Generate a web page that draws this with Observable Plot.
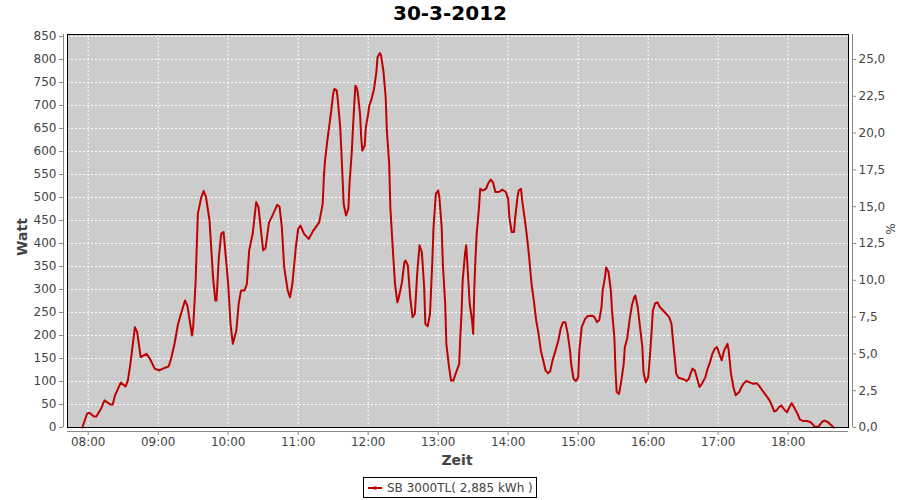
<!DOCTYPE html>
<html>
<head>
<meta charset="utf-8">
<script src="https://cdn.jsdelivr.net/npm/d3@7"></script>
<script src="https://cdn.jsdelivr.net/npm/@observablehq/plot@0.6"></script>
<style>
  html, body { margin: 0; padding: 0; background: #fff; }
  #wrap { position: relative; width: 900px; height: 500px; font-family: "DejaVu Sans", sans-serif; }
  #chart { position: absolute; left: 0; top: 0; }
  .lbl { position: absolute; color: #444; white-space: nowrap; }
  #title { position: absolute; left: 0; width: 900px; top: 1px; text-align: center; font-weight: bold; font-size: 20px; color: #000; }
  #legend { position: absolute; left: 363px; top: 477px; width: 172px; height: 19px; border: 1px solid #000; box-sizing: content-box;
            display: flex; align-items: center; font-size: 12px; color: #444; }
</style>
</head>
<body>
<div id="wrap">
  <div id="chart"></div>
  <div id="title">30-3-2012</div>
  <div class="lbl" id="ylab" style="left:22px; top:237px; font-size:14px; font-weight:bold; transform: translate(-50%,-50%) rotate(-90deg);">Watt</div>
  <div class="lbl" id="y2lab" style="left:891px; top:229px; font-size:12px; transform: translate(-50%,-50%) rotate(-90deg);">%</div>
  <div class="lbl" id="xlab" style="left:457px; top:460px; font-size:14px; font-weight:bold; transform: translate(-50%,-50%);">Zeit</div>
  <div id="legend">
    <svg width="20" height="19" style="margin-left:2px"><line x1="2" x2="16" y1="10" y2="10" stroke="#c00000" stroke-width="2"/><rect x="7.5" y="8.5" width="3" height="3" fill="#c00000"/></svg>
    <span style="margin-left:1px">SB 3000TL( 2,885 kWh )</span>
  </div>
</div>
<script>
const title = "30-3-2012";
const seriesName = "SB 3000TL( 2,885 kWh )";

const times = ["07:55","07:59","08:01","08:05","08:07","08:11","08:14","08:19","08:21","08:23","08:28","08:32","08:34","08:36","08:38","08:40","08:42","08:45","08:50","08:53","08:57",
"09:01","09:06","09:09","09:11","09:14","09:17","09:20","09:23","09:25","09:27","09:29","09:30","09:32","09:34","09:37","09:39","09:41","09:44","09:47","09:49","09:50","09:52","09:54","09:56","09:58",
"10:00","10:02","10:04","10:07","10:09","10:11","10:14","10:16","10:18","10:21","10:24","10:26","10:28","10:30","10:32","10:35","10:38","10:42","10:44","10:46","10:48","10:51","10:53","10:55","10:58",
"11:00","11:02","11:05","11:09","11:13","11:18","11:21","11:22","11:23","11:25","11:28","11:30","11:31","11:33","11:34","11:36","11:37","11:38","11:39","11:41","11:43","11:44","11:46","11:47","11:49","11:50","11:51","11:53","11:54","11:55","11:57","11:58",
"12:00","12:01","12:03","12:05","12:07","12:08","12:10","12:11","12:13","12:15","12:16","12:18","12:19","12:21","12:23","12:25","12:26","12:29","12:31","12:32","12:34","12:36","12:38","12:40","12:42","12:44","12:46","12:48","12:49","12:51","12:53","12:55","12:56","12:58",
"13:00","13:01","13:03","13:04","13:06","13:07","13:09","13:11","13:13","13:15","13:18","13:19","13:20","13:21","13:23","13:24","13:25","13:27","13:29","13:30","13:31","13:32","13:33","13:35","13:36","13:38","13:41","13:43","13:45","13:47","13:49","13:52","13:55","13:58",
"14:00","14:01","14:03","14:05","14:06","14:08","14:09","14:11","14:12","14:14","14:16","14:18","14:20","14:22","14:24","14:26","14:28","14:30","14:32","14:34","14:36","14:38","14:41","14:43","14:45","14:47","14:49","14:51","14:53","14:54","14:56","14:58",
"15:00","15:01","15:03","15:06","15:08","15:12","15:14","15:16","15:18","15:20","15:21","15:23","15:24","15:26","15:28","15:29","15:31","15:32","15:33","15:35","15:37","15:39","15:40","15:42","15:44","15:46","15:48","15:49","15:51","15:53","15:55","15:56","15:58",
"16:00","16:01","16:03","16:04","16:06","16:08","16:10","16:14","16:18","16:20","16:21","16:23","16:24","16:26","16:29","16:31","16:33","16:35","16:36","16:38","16:40","16:42","16:44","16:46","16:49","16:51","16:53","16:55","16:57","16:59",
"17:01","17:03","17:05","17:08","17:09","17:11","17:13","17:15","17:18","17:20","17:22","17:24","17:27","17:30","17:33","17:35","17:38","17:41","17:44","17:46","17:48","17:50","17:52","17:54","17:56","17:59",
"18:01","18:03","18:05","18:08","18:10","18:13","18:16","18:19","18:21","18:23","18:26","18:29","18:31","18:34","18:36","18:39"];

const watts = [0,30,32,24,24,41,59,50,50,70,98,89,102,135,175,218,207,153,160,149,128,
124,130,133,149,182,225,251,276,265,233,200,218,312,465,501,514,501,450,327,276,276,370,421,425,370,
312,225,182,211,269,298,298,312,385,421,490,479,430,385,390,446,461,484,480,435,348,298,283,312,392,
432,439,421,410,428,446,486,544,580,624,682,725,736,733,711,653,602,544,486,461,475,530,602,653,743,740,729,682,631,602,613,653,
682,700,715,736,772,805,814,809,776,718,646,573,479,392,312,272,280,316,359,363,352,283,240,247,334,396,381,305,225,220,247,363,435,508,
515,501,435,356,269,182,138,102,102,117,138,200,247,320,378,396,356,269,233,204,305,370,421,479,519,515,519,531,539,533,512,512,517,512,
497,457,425,425,457,501,515,519,493,457,417,370,312,276,233,204,167,146,124,118,122,146,171,189,215,229,229,204,167,138,106,101,
109,167,218,236,242,243,240,229,233,262,298,327,348,338,298,254,196,124,77,73,102,138,175,193,233,265,283,287,262,218,175,120,98,
109,138,211,254,270,272,262,251,240,225,196,146,117,108,106,104,101,106,115,128,124,106,88,95,109,128,142,160,171,175,
160,146,167,182,167,117,88,70,77,88,96,101,98,95,96,91,80,70,59,48,35,37,44,48,41,33,
44,53,44,30,17,14,14,12,7,1,2,12,15,12,7,0];

const wattTicks = d3.range(0, 851, 50);
const pctTicks = [0, 2.5, 5, 7.5, 10, 12.5, 15, 17.5, 20, 22.5, 25];
const wattPerPct = 32; // 100 % = 3200 W
const hourLabels = ["08:00","09:00","10:00","11:00","12:00","13:00","14:00","15:00","16:00","17:00","18:00"];

const toDate = s => { const [h, m, sec] = s.split(":").map(Number); return new Date(Date.UTC(2012, 2, 30, h, m, sec || 0)); };
const data = times.map((t, i) => ({time: toDate(t), w: watts[i]}));
const hourTicks = hourLabels.map(toDate);
const xDomain = [toDate("07:42:16"), toDate("18:51:42")];
const yDomain = [0, 854.3];

const chart = Plot.plot({
  width: 900, height: 500,
  marginLeft: 67, marginRight: 52, marginTop: 34, marginBottom: 73,
  style: {background: "transparent", fontFamily: "DejaVu Sans, sans-serif", fontSize: "12px", color: "#444"},
  x: {type: "utc", domain: xDomain},
  y: {domain: yDomain},
  marks: [
    Plot.frame({fill: "#cccccc", stroke: null}),
    Plot.gridX({ticks: hourTicks, stroke: "white", strokeOpacity: 1, strokeDasharray: "2,2"}),
    Plot.gridY({ticks: wattTicks, stroke: "white", strokeOpacity: 1, strokeDasharray: "2,2"}),
    Plot.line(data, {x: "time", y: "w", stroke: "#c00000", strokeWidth: 2}),
    Plot.frame({stroke: "#000", strokeWidth: 1}),
    Plot.ruleX([xDomain[0]], {dx: -4, stroke: "#888"}),
    Plot.ruleX([xDomain[1]], {dx: 4, stroke: "#888"}),
    Plot.ruleY([0], {dy: 4, stroke: "#888"}),
    Plot.axisX({ticks: hourTicks, tickFormat: d3.utcFormat("%H:%M"), tickSize: 4, tickPadding: 2, dy: 4, stroke: "#888", label: null}),
    Plot.axisY({ticks: wattTicks, tickSize: 4, tickPadding: 3, dx: -4, stroke: "#888", label: null}),
    Plot.axisY({anchor: "right", ticks: pctTicks.map(p => p * wattPerPct), tickFormat: w => (w / wattPerPct).toFixed(1).replace(".", ","),
                tickSize: 3, tickPadding: 3, dx: 4, stroke: "#888", label: null})
  ]
});
document.getElementById("chart").appendChild(chart);
</script>
</body>
</html>
